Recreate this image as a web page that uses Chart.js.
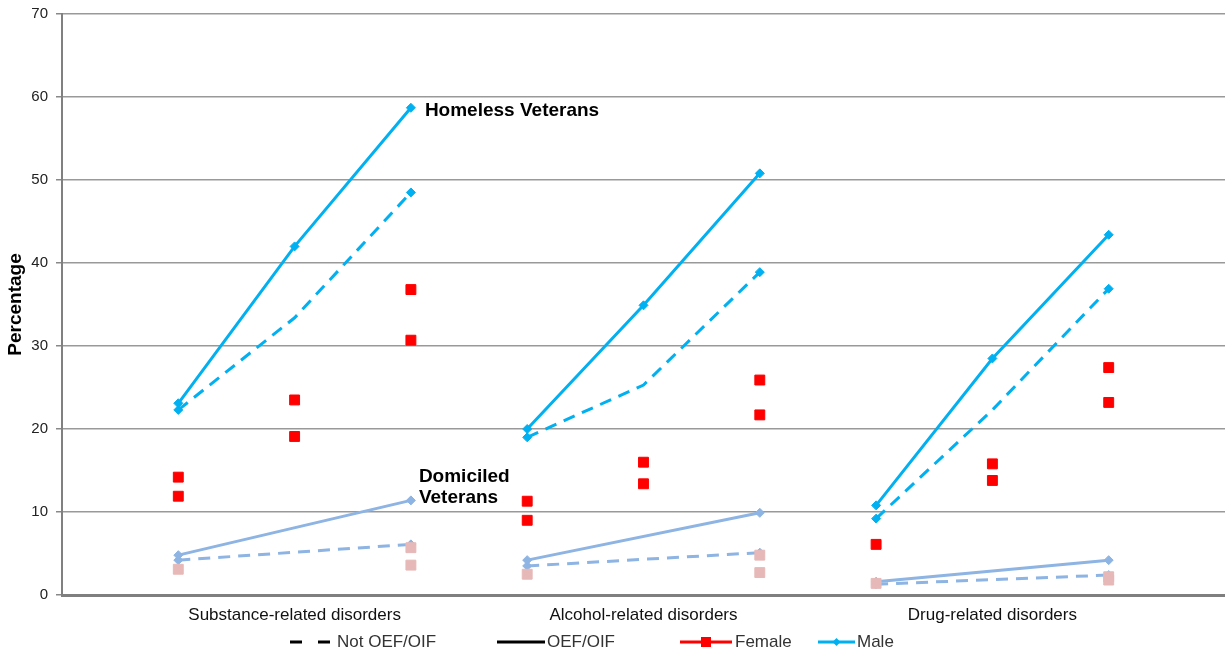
<!DOCTYPE html>
<html>
<head>
<meta charset="utf-8">
<script src="https://cdn.jsdelivr.net/npm/chart.js@4.4.0/dist/chart.umd.min.js"></script>
<style>
  html, body { margin: 0; padding: 0; background: #fff; }
  #wrap { position: relative; width: 1225px; height: 654px; }
</style>
</head>
<body>
<div id="wrap"><canvas id="myChart"></canvas></div>
<script>
const categories = ["Substance-related disorders", "Alcohol-related disorders", "Drug-related disorders"];
const categorySlots = [2, 5, 8];
const slots = [1, 2, 3, 4, 5, 6, 7, 8, 9];
const yTicks = [0, 10, 20, 30, 40, 50, 60, 70];

// homeless veterans, 3 positions per disorder group
const homelessMaleOef = [23.1, 42.0, 58.7, 20.0, 34.9, 50.8, 10.8, 28.5, 43.4];
const homelessMaleNotOef = [22.3, 33.4, 48.5, 19.0, 25.3, 38.9, 9.2, 22.3, 36.9];
const homelessFemaleA = [14.2, 23.5, 36.8, 11.3, 16.0, 25.9, 6.1, 15.8, 27.4];
const homelessFemaleB = [11.9, 19.1, 30.7, 9.0, 13.4, 21.7, null, 13.8, 23.2];

// domiciled veterans
const domMaleOef = [4.8, null, 11.4, 4.2, null, 9.9, 1.6, null, 4.2];
const domMaleNotOef = [4.2, null, 6.1, 3.5, null, 5.1, 1.3, null, 2.4];
const domFemaleA = [3.1, null, 5.7, 2.5, null, 4.8, 1.4, null, 2.2];
const domFemaleB = [null, null, 3.6, null, null, 2.7, null, null, 1.8];

const legendNames = ["Not OEF/OIF", "OEF/OIF", "Female", "Male"];

const BLUE = "#00B0F0";
const LIGHTBLUE = "#8DB4E2";
const RED = "#FF0000";
const PINK = "#E6B9B8";
const FONT = "'Liberation Sans', Arial, sans-serif";

// points of one series, with a break between the disorder groups
function groupedPoints(values) {
  const pts = [];
  values.forEach((v, i) => {
    if (v !== null) pts.push({ x: slots[i], y: v });
    if (i % 3 === 2 && i < values.length - 1) pts.push({ x: slots[i] + 0.5, y: null });
  });
  return pts;
}

function lineSet(values, color, dashed, hideMiddle) {
  return {
    type: "line",
    data: groupedPoints(values),
    borderColor: color,
    backgroundColor: color,
    borderWidth: 3,
    borderDash: dashed ? [12, 8] : [],
    pointStyle: "rectRot",
    pointRadius: (c) => (hideMiddle && c.raw && c.raw.x % 3 === 2 ? 0 : 4.5),
    pointBorderWidth: 1,
    spanGaps: false,
    tension: 0,
    order: 2,
  };
}

function squareSet(values, color) {
  return {
    type: "line",
    data: groupedPoints(values),
    showLine: false,
    borderColor: color,
    backgroundColor: color,
    pointStyle: "rect",
    pointRadius: 7,
    pointBorderWidth: 1,
    order: 1,
  };
}

const legendItems = [
  { x: 290, w: 40, tx: 337, color: "#000", dash: [12, 16], marker: null },
  { x: 497, w: 48, tx: 547, color: "#000", dash: [], marker: null },
  { x: 680, w: 52, tx: 735, color: RED, dash: [], marker: "rect" },
  { x: 818, w: 37, tx: 857, color: BLUE, dash: [], marker: "diamond" },
];

const legendPlugin = {
  id: "bottomLegend",
  afterDraw(chart) {
    const c = chart.ctx;
    const y = 642;
    c.save();
    legendItems.forEach((it, i) => {
      c.strokeStyle = it.color;
      c.fillStyle = it.color;
      c.lineWidth = 3;
      c.setLineDash(it.dash);
      c.beginPath();
      c.moveTo(it.x, y);
      c.lineTo(it.x + it.w, y);
      c.stroke();
      c.setLineDash([]);
      const mx = it.x + it.w / 2;
      if (it.marker === "rect") {
        c.fillRect(mx - 5, y - 5, 10, 10);
      } else if (it.marker === "diamond") {
        c.beginPath();
        c.moveTo(mx, y - 4);
        c.lineTo(mx + 4, y);
        c.lineTo(mx, y + 4);
        c.lineTo(mx - 4, y);
        c.closePath();
        c.fill();
      }
      c.fillStyle = "#333";
      c.font = "17px " + FONT;
      c.textBaseline = "middle";
      c.textAlign = "left";
      c.fillText(legendNames[i], it.tx, y);
    });
    c.restore();
  },
};

const notesPlugin = {
  id: "notes",
  afterDatasetsDraw(chart) {
    const c = chart.ctx;
    const xs = chart.scales.x;
    const ys = chart.scales.y;
    c.save();
    c.fillStyle = "#000";
    c.font = "bold 19px " + FONT;
    c.textBaseline = "middle";
    c.textAlign = "left";
    c.fillText("Homeless Veterans", xs.getPixelForValue(slots[2]) + 14, ys.getPixelForValue(homelessMaleOef[2]) + 3);
    const dx = xs.getPixelForValue(slots[2]) + 8;
    const dy = ys.getPixelForValue(domMaleOef[2]);
    c.fillText("Domiciled", dx, dy - 24);
    c.fillText("Veterans", dx, dy - 3);
    c.restore();
  },
};

const ctx = document.getElementById("myChart").getContext("2d");
const myChart = new Chart(ctx, {
  type: "line",
  data: {
    datasets: [
      squareSet(homelessFemaleA, RED),
      squareSet(homelessFemaleB, RED),
      squareSet(domFemaleA, PINK),
      squareSet(domFemaleB, PINK),
      lineSet(homelessMaleOef, BLUE, false, false),
      lineSet(homelessMaleNotOef, BLUE, true, true),
      lineSet(domMaleOef, LIGHTBLUE, false, false),
      lineSet(domMaleNotOef, LIGHTBLUE, true, false),
    ],
  },
  options: {
    responsive: true,
    maintainAspectRatio: false,
    animation: false,
    layout: { autoPadding: false, padding: { top: 14, right: 0, bottom: 0, left: 0 } },
    plugins: {
      legend: { display: false },
      tooltip: { enabled: false },
    },
    scales: {
      x: {
        type: "linear",
        min: 0,
        max: 10,
        afterFit: (s) => { s.height = 59; s.paddingRight = 0; s.paddingLeft = 0; },
        afterBuildTicks: (s) => { s.ticks = slots.concat([0, 10]).sort((a, b) => a - b).map((v) => ({ value: v })); },
        grid: { display: false, drawTicks: true, tickLength: 10 },
        border: { display: true, color: "#7f7f7f", width: 3 },
        ticks: {
          autoSkip: false,
          maxRotation: 0,
          padding: 0,
          color: "#111",
          font: { family: FONT, size: 17 },
          callback: (v) => {
            const k = categorySlots.indexOf(v);
            return k >= 0 ? categories[k] : "";
          },
        },
      },
      y: {
        min: 0,
        max: 70,
        afterFit: (s) => { s.width = 62; s.paddingTop = 0; s.paddingBottom = 0; },
        afterBuildTicks: (s) => { s.ticks = yTicks.map((v) => ({ value: v })); },
        grid: { color: "#999", lineWidth: 1.5, tickLength: 6, drawTicks: true, tickColor: "#888" },
        border: { display: true, color: "#808080", width: 2 },
        ticks: {
          padding: 8,
          color: "#222",
          font: { family: FONT, size: 15 },
        },
        title: {
          display: true,
          text: "Percentage",
          color: "#000",
          padding: { top: 4, bottom: 0 },
          font: { family: FONT, size: 19, weight: "bold" },
        },
      },
    },
  },
  plugins: [notesPlugin, legendPlugin],
});
</script>
</body>
</html>
